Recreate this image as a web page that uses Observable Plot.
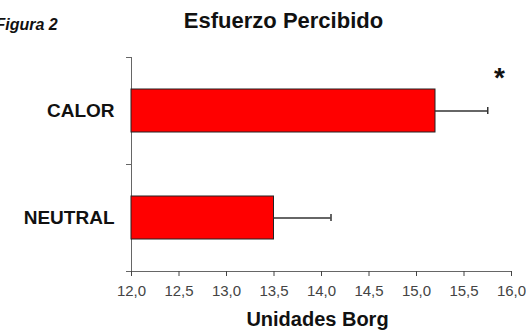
<!DOCTYPE html>
<html>
<head>
<meta charset="utf-8">
<script src="https://cdn.jsdelivr.net/npm/d3@7"></script>
<script src="https://cdn.jsdelivr.net/npm/@observablehq/plot@0.6"></script>
<style>
  html, body { margin: 0; padding: 0; background: #fff; }
  #chart svg { display: block; }
</style>
</head>
<body>
<div id="chart"></div>
<script>
// Perceived exertion (Borg units) by condition: mean ± error
const categories = ["CALOR", "NEUTRAL"];
const means = [15.2, 13.5];
const errors = [0.55, 0.6];
const xDomain = [12, 16];
const xTicks = [12, 12.5, 13, 13.5, 14, 14.5, 15, 15.5, 16];

const data = categories.map((c, i) => ({
  cond: c,
  mean: means[i],
  hi: means[i] + errors[i]
}));

const font = "'Liberation Sans', Arial, Helvetica, sans-serif";
const comma = d => d3.format(".1f")(d).replace(".", ",");

const chart = Plot.plot({
  width: 526,
  height: 332,
  marginLeft: 131,
  marginRight: 15,
  marginTop: 57,
  marginBottom: 61,
  style: { fontFamily: font, background: "#fff", overflow: "hidden" },
  x: { domain: xDomain },
  y: { domain: categories, paddingInner: 0.6, paddingOuter: 0.3 },
  marks: [
    // axis lines
    Plot.frame({ anchor: "left", stroke: "#666" }),
    Plot.frame({ anchor: "bottom", stroke: "#666" }),
    // category boundary ticks on the y axis
    Plot.ruleY([categories[0]], { y: d => d, x1: xDomain[0], x2: xDomain[0], insetLeft: -5, dy: -53.5, stroke: "#666" }),
    Plot.ruleY(categories, { y: d => d, x1: xDomain[0], x2: xDomain[0], insetLeft: -5, dy: 53.5, stroke: "#666" }),
    Plot.axisX({
      ticks: xTicks,
      tickFormat: comma,
      tickSize: 5,
      tickPadding: 9,
      fontSize: 15,
      color: "#444",
      label: null
    }),
    Plot.axisY({
      tickSize: 0,
      tickPadding: 17,
      fontSize: 19,
      fontWeight: "bold",
      color: "#111",
      label: null
    }),
    // bars
    Plot.barX(data, {
      y: "cond",
      x1: () => xDomain[0],
      x2: "mean",
      fill: "#ff0000",
      stroke: "#222",
      strokeWidth: 1
    }),
    // error bars
    Plot.ruleY(data, { y: "cond", x1: "mean", x2: "hi", stroke: "#333", strokeWidth: 1.5 }),
    Plot.tickX(data, { y: "cond", x: "hi", insetTop: 18, insetBottom: 18, stroke: "#333", strokeWidth: 1.5 }),
    // significance marker
    Plot.text(["*"], {
      frameAnchor: "top-right",
      textAnchor: "middle",
      lineAnchor: "middle",
      dx: -12,
      dy: 21,
      fontSize: 28,
      fontWeight: "bold",
      fill: "#111"
    }),
    // title
    Plot.text(["Esfuerzo Percibido"], {
      frameAnchor: "top",
      textAnchor: "middle",
      lineAnchor: "middle",
      dx: -38,
      dy: -37,
      fontSize: 22,
      fontWeight: "bold",
      fill: "#111"
    }),
    // figure number
    Plot.text(["Figura 2"], {
      frameAnchor: "top-left",
      textAnchor: "start",
      lineAnchor: "middle",
      dx: -136,
      dy: -33,
      fontSize: 16,
      fontWeight: "bold",
      fontStyle: "italic",
      fill: "#111"
    }),
    // x axis title
    Plot.text(["Unidades Borg"], {
      frameAnchor: "bottom",
      textAnchor: "middle",
      lineAnchor: "middle",
      dx: -4,
      dy: 48,
      fontSize: 20,
      fontWeight: "bold",
      fill: "#111"
    })
  ]
});

document.getElementById("chart").append(chart);
</script>
</body>
</html>
